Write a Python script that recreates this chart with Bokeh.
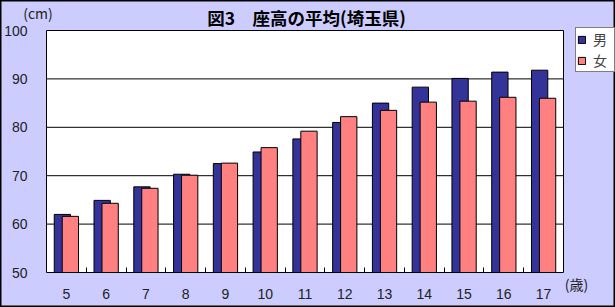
from bokeh.plotting import figure
from bokeh.models import (ColumnDataSource, Range1d, FixedTicker, Label, Legend,
                          LegendItem, BoxAnnotation)
from bokeh.transform import dodge
from bokeh.embed import file_html
from bokeh.resources import INLINE

ages = [5, 6, 7, 8, 9, 10, 11, 12, 13, 14, 15, 16, 17]
male = [62.0, 64.9, 67.7, 70.3, 72.5, 74.9, 77.6, 81.0, 85.0, 88.3, 90.1, 91.4, 91.8]
female = [61.6, 64.3, 67.4, 70.1, 72.6, 75.8, 79.2, 82.2, 83.5, 85.2, 85.4, 86.2, 86.0]
y_ticks = [50, 60, 70, 80, 90, 100]

title_text = "図3　座高の平均(埼玉県)"
y_unit = "(cm)"
x_unit = "(歳)"
series_names = ["男", "女"]
male_color = "#333399"
female_color = "#FF8080"
bg = "#CCCCFF"

W, H = 615, 307
# page-pixel placement of the plotting area
PL, PR, PT, PB = 46, 563, 30, 272

x_lo, x_hi = ages[0] - 0.5, ages[-1] + 0.5
y_lo, y_hi = y_ticks[0], y_ticks[-1]
sx = (PR - PL) / (x_hi - x_lo)
sy = (PB - PT) / (y_hi - y_lo)

src = ColumnDataSource(dict(age=ages, male=male, female=female))
grid_src = ColumnDataSource(dict(y=y_ticks[1:-1]))

p = figure(width=W, height=H, output_backend="svg", toolbar_location=None,
           x_range=Range1d(x_lo - PL / sx, x_hi + (W - PR) / sx),
           y_range=Range1d(y_lo - (H - PB) / sy, y_hi + PT / sy),
           min_border=0, title=None)
p.border_fill_color = bg
p.background_fill_color = bg
p.outline_line_color = "black"
p.outline_line_width = 2

# white plotting area
p.add_layout(BoxAnnotation(left=x_lo, right=x_hi, bottom=y_lo, top=y_hi,
                           fill_color="white", fill_alpha=1, line_color="black",
                           line_width=1, line_alpha=1, level="image"))

# horizontal grid lines limited to the plotting area
p.segment(x0=x_lo, x1=x_hi, y0="y", y1="y", source=grid_src,
          line_color="black", line_width=1)

r_m = p.vbar(x=dodge("age", -0.1), top="male", bottom=y_lo, width=0.41, source=src,
             fill_color=male_color, line_color="black", line_width=1)
r_f = p.vbar(x=dodge("age", 0.1), top="female", bottom=y_lo, width=0.41, source=src,
             fill_color=female_color, line_color="black", line_width=1)

p.xgrid.visible = False
p.ygrid.visible = False

# axes pinned to the plotting area's edges
p.xaxis.fixed_location = y_lo
p.xaxis.ticker = FixedTicker(ticks=ages, minor_ticks=[a + 0.5 for a in ages[:-1]])
p.xaxis.axis_line_color = None
p.xaxis.major_tick_in = 0
p.xaxis.major_tick_out = 0
p.xaxis.minor_tick_in = 5
p.xaxis.minor_tick_out = 0
p.xaxis.minor_tick_line_color = "black"
p.xaxis.major_label_standoff = 16
p.xaxis.major_label_text_font = "Liberation Sans"
p.xaxis.major_label_text_font_size = "14px"
p.xaxis.major_label_text_color = "#222222"

p.yaxis.fixed_location = x_lo
p.yaxis.ticker = FixedTicker(ticks=y_ticks)
p.yaxis.axis_line_color = None
p.yaxis.major_tick_in = 0
p.yaxis.major_tick_out = 0
p.yaxis.minor_tick_line_color = None
p.yaxis.major_label_standoff = 19
p.yaxis.major_label_text_font = "Liberation Sans"
p.yaxis.major_label_text_font_size = "14px"
p.yaxis.major_label_text_color = "#222222"

# texts (screen units: from the frame's left / bottom edge)
p.add_layout(Label(x=306, y=H - 16.5, x_units="screen", y_units="screen", text=title_text,
                   text_align="center", text_baseline="middle", text_font="Noto Sans CJK JP",
                   text_font_size="17.5px", text_font_style="bold", text_color="black"))
p.add_layout(Label(x=37.5, y=H - 12, x_units="screen", y_units="screen", text=y_unit,
                   text_align="center", text_baseline="middle", text_font="Noto Sans CJK JP",
                   text_font_size="14px", text_color="#222222"))
p.add_layout(Label(x=576, y=H - 283, x_units="screen", y_units="screen", text=x_unit,
                   text_align="center", text_baseline="middle", text_font="Noto Sans CJK JP",
                   text_font_size="14px", text_color="#222222"))

legend = Legend(items=[LegendItem(label=series_names[0], renderers=[r_m]),
                       LegendItem(label=series_names[1], renderers=[r_f])],
                location=(575, H - 72), orientation="vertical",
                glyph_width=9, glyph_height=9, label_height=16, label_standoff=7,
                padding=1, spacing=1, margin=0,
                label_text_font="Liberation Sans, Noto Sans CJK JP", label_text_font_size="14px",
                border_line_color="black", background_fill_color="white",
                background_fill_alpha=1)
p.add_layout(legend, "center")

open("out.html", "w").write(file_html(p, INLINE))
